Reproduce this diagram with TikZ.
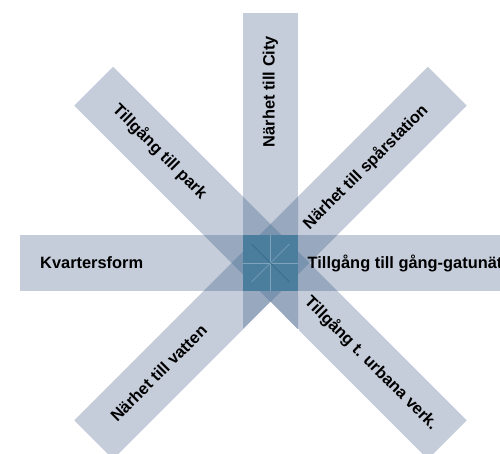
\documentclass[tikz,border=0pt]{standalone}
\usepackage{fontspec}
\setmainfont{Liberation Sans}
\begin{document}
\begin{tikzpicture}[x=1pt,y=-1pt,
  lbl/.style={font=\fontsize{16.4}{19}\selectfont\bfseries, inner sep=0pt, text=black},
  seam/.style={line width=0.7pt}]
\definecolor{barlight}{HTML}{C5CCDA}
\definecolor{barmid}{HTML}{98A8BE}
\definecolor{bartip}{HTML}{7A93AE}
\definecolor{barcore}{HTML}{4B7D9C}
\definecolor{seamdark}{HTML}{2F6585}
\definecolor{seamlight}{HTML}{7FA3BC}
\useasboundingbox (0,0) rectangle (500,454);
\coordinate (C) at (270.5,263);
\def\Hbar{(20,235.5) rectangle (520,290.5)}
\def\Vbar{(243,13) rectangle (298,329.4)}
\def\DAbar{(113.1,66.8) -- (74.3,105.6) -- (427.9,459.2) -- (466.7,420.4) -- cycle}
\def\DBbar{(427.9,66.8) -- (466.7,105.6) -- (113.1,459.2) -- (74.3,420.4) -- cycle}
\def\Diamond{(270.5,224.1) -- (309.4,263) -- (270.5,301.9) -- (231.6,263) -- cycle}
% single layer
\fill[barlight] \Hbar;
\fill[barlight] \Vbar;
\fill[barlight] \DAbar;
\fill[barlight] \DBbar;
% pairwise overlaps
\begin{scope}\clip \Hbar; \fill[barmid] \Vbar; \fill[barmid] \DAbar; \fill[barmid] \DBbar; \end{scope}
\begin{scope}\clip \Vbar; \fill[barmid] \DAbar; \fill[barmid] \DBbar; \end{scope}
\begin{scope}\clip \DAbar; \fill[barmid] \DBbar; \end{scope}
% triple overlaps
\begin{scope}\clip \Diamond; \fill[bartip] \Hbar; \fill[bartip] \Vbar; \end{scope}
% core
\fill[barcore] (243,235.5) rectangle (298,290.5);
\draw[seam, seamlight] (243,263) -- (298,263);
\draw[seam, seamlight] (270.5,235.5) -- (270.5,290.5);
\draw[seam, seamlight] (251.5,282) -- (289.5,244);
\draw[seam, seamdark] (251.5,244) -- (289.5,282);
% gap below the core
\fill[white] (270.5,301.9) -- (243,329.4) -- (298,329.6) -- cycle;
\fill[white] (242.5,329.4) rectangle (298.5,331);
% labels
\node[lbl, rotate=90, anchor=base] (city) at (274.5,91.5) {Närhet till City};
\node[lbl, rotate=-45, anchor=base] (park) at (156.3,155.2) {Tillgång till park};
\node[lbl, rotate=45, anchor=base] (spar) at (369.2,170.7) {Närhet till spårstation};
\node[lbl, anchor=base west] (kvart) at (40,268.9) {Kvartersform};
\node[lbl, anchor=base west] (gang) at (307.5,268.9) {Tillgång till gång-gatunät};
\node[lbl, rotate=-45, anchor=base] (urb) at (367.7,366.6) {Tillgång t. urbana verk.};
\node[lbl, rotate=45, anchor=base] (vatt) at (162.7,377.2) {Närhet till vatten};
\end{tikzpicture}
\end{document}
